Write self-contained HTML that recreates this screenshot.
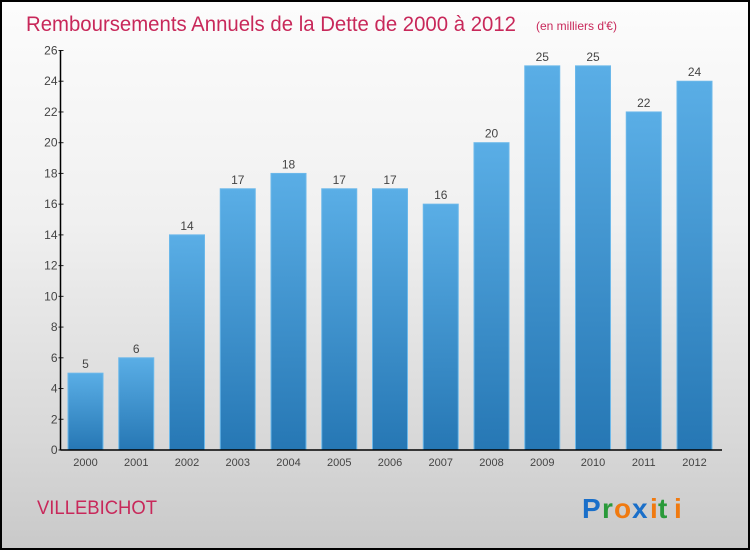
<!DOCTYPE html>
<html><head><meta charset="utf-8">
<style>
html,body{margin:0;padding:0;}
body{width:750px;height:550px;overflow:hidden;font-family:"Liberation Sans",sans-serif;}
#frame{position:absolute;left:0;top:0;width:746px;height:546px;border:2px solid #000;background:linear-gradient(#fcfcfc,#f0f0f0 40%,#d8d8d8 80%,#c9c9c9);}
</style></head>
<body>
<div id="frame">
<svg id="chart" width="746" height="546" xmlns="http://www.w3.org/2000/svg">
<defs>
<linearGradient id="barg" x1="0" y1="0" x2="0" y2="1">
<stop offset="0" stop-color="#5aaee6"/><stop offset="1" stop-color="#2677b4"/>
</linearGradient>
</defs>
<text x="24" y="29" font-size="21" fill="#c8285a" textLength="490" lengthAdjust="spacingAndGlyphs">Remboursements Annuels de la Dette de 2000 à 2012</text>
<text x="534" y="28" font-size="12" fill="#c8285a">(en milliers d'€)</text>
<text x="35" y="512" font-size="19" fill="#c8285a" textLength="120" lengthAdjust="spacingAndGlyphs">VILLEBICHOT</text>
<g font-size="28" font-family="'Liberation Sans',sans-serif" font-weight="bold">
<text x="580" y="516" fill="#1a6fc9">P</text><text x="600" y="516" fill="#2a9a3a">r</text><text x="612" y="516" fill="#f07a10">o</text><text x="630" y="516" fill="#1a6fc9">x</text><text x="648" y="516" fill="#f07a10">i</text><text x="656" y="516" fill="#2a9a3a">t</text><text x="672" y="516" fill="#f07a10">i</text>
</g>
<g id="plot"></g>
</svg>
</div>
<script>
const years=["2000","2001","2002","2003","2004","2005","2006","2007","2008","2009","2010","2011","2012"];
const values=[5,6,14,17,18,17,17,16,20,25,25,22,24];
const yTicks=[0,2,4,6,8,10,12,14,16,18,20,22,24,26];
const NS="http://www.w3.org/2000/svg";
const g=document.getElementById('plot');
const y0=448,yTop=48.5,yMax=26,axisX=58.5,xStart=83.5,step=50.75,bw=35;
function ys(v){return y0-(v/yMax)*(y0-yTop);}
function xs(i){return xStart+i*step;}
function mk(t,a){const e=document.createElementNS(NS,t);for(const k in a)e.setAttribute(k,a[k]);g.appendChild(e);return e;}
years.forEach((yr,i)=>{
 const v=values[i];
 const r=mk('rect',{x:xs(i)-bw/2,y:ys(v),width:bw,height:y0-ys(v),fill:'url(#barg)',stroke:'#6bb8ea','stroke-width':1});
 
 
 const t=mk('text',{x:xs(i),y:ys(v)-5,'text-anchor':'middle','font-size':12,fill:'#444'});
 t.textContent=v;
 
 
 const xl=mk('text',{x:xs(i),y:y0+16,'text-anchor':'middle','font-size':11,fill:'#444'});
 xl.textContent=yr;
 
 
});
yTicks.forEach(v=>{
 const l=mk('line',{x1:axisX-2,x2:axisX+3,y1:ys(v),y2:ys(v),stroke:'#222','stroke-width':1});
 
 
 const t=mk('text',{x:axisX-3,y:ys(v)+4,'text-anchor':'end','font-size':12,fill:'#444'});
 t.textContent=v;
 
 
});
const ya=mk('line',{x1:axisX,x2:axisX,y1:yTop,y2:y0,stroke:'#000','stroke-width':1.5});


const xa=mk('line',{x1:axisX,x2:720,y1:y0,y2:y0,stroke:'#000','stroke-width':1.5});


</script>
</body></html>
